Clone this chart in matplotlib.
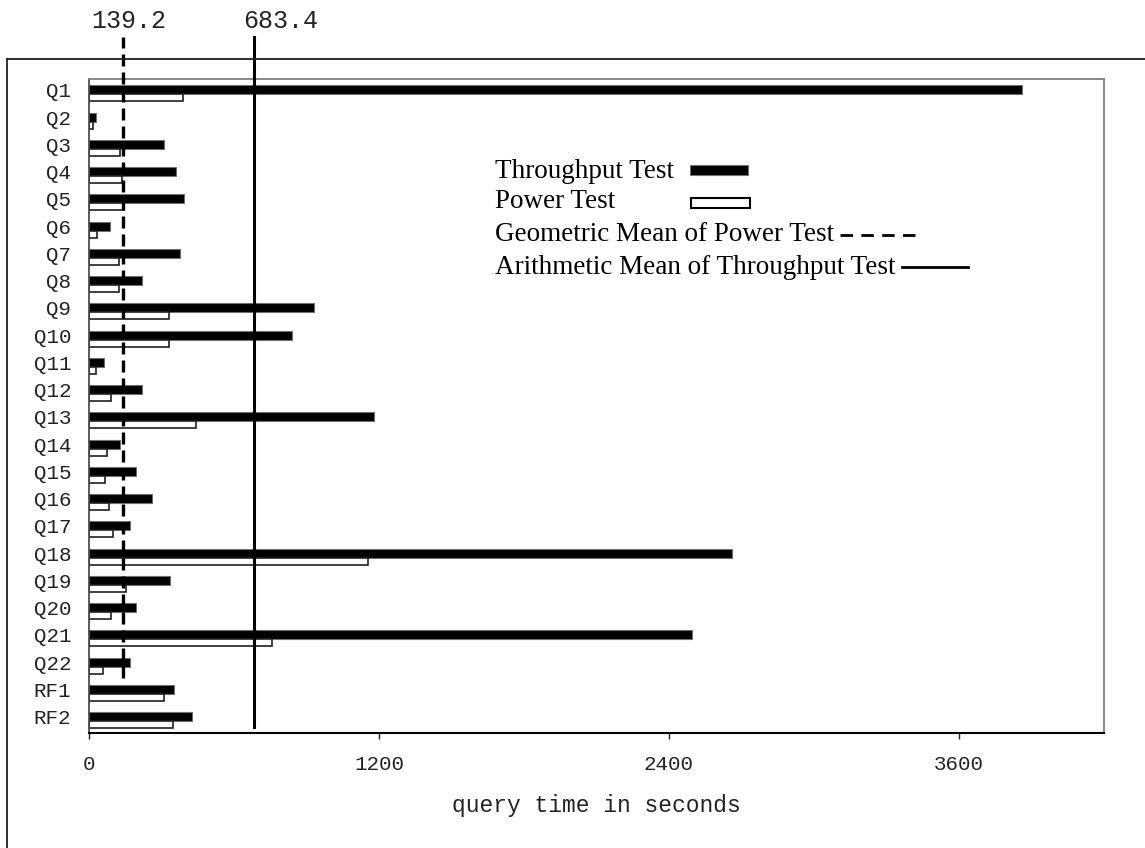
#!/usr/bin/env python3
"""TPC-H style query timing chart: throughput vs power test per query."""
import matplotlib

matplotlib.use("Agg")
import matplotlib.pyplot as plt
from matplotlib.lines import Line2D
from matplotlib.patches import Rectangle

QUERIES = ["Q1", "Q2", "Q3", "Q4", "Q5", "Q6", "Q7", "Q8", "Q9", "Q10", "Q11", "Q12",
           "Q13", "Q14", "Q15", "Q16", "Q17", "Q18", "Q19", "Q20", "Q21", "Q22",
           "RF1", "RF2"]
THROUGHPUT = [3860, 28, 309, 359, 392, 86, 375, 218, 930, 839, 61, 218,
              1178, 127, 193, 259, 168, 2659, 334, 193, 2494, 168, 350, 425]
POWER = [389, 17, 127, 134, 144, 33, 124, 123, 331, 331, 26, 90,
         442, 75, 66, 83, 99, 1152, 151, 91, 755, 58, 309, 348]
GEO_MEAN_POWER = 139.2
ARITH_MEAN_THROUGHPUT = 683.4
XTICKS = [0, 1200, 2400, 3600]

W, H = 1145, 848
MONO = "Liberation Mono"
SERIF = "Liberation Serif"


def fx(px):
    return px / W


def fy(py):
    return 1 - py / H


fig = plt.figure(figsize=(W / 100, H / 100), dpi=100, facecolor="white")
ax = fig.add_axes([fx(89.3), fy(733), fx(1103.7) - fx(89.3), fy(79) - fy(733)])

ys = list(range(len(QUERIES)))
ax.barh(ys, THROUGHPUT, height=0.33, color="black",
        edgecolor="#707070", linewidth=0.8, zorder=2)
ax.barh([y + 0.295 for y in ys], POWER, height=0.26, color="white",
        edgecolor="#202020", linewidth=1.2, zorder=2)

ax.set_xlim(0, 4200)
ax.set_ylim(23.6, -0.4)
ax.set_yticks(ys)
ax.set_yticklabels(QUERIES, fontfamily=MONO, fontsize=15)
ax.set_xticks(XTICKS)
ax.set_xticklabels([str(t) for t in XTICKS], fontfamily=MONO, fontsize=15)
ax.tick_params(axis="y", length=0, pad=13, colors="#222222")
ax.tick_params(axis="x", length=4.5, width=1, direction="out", pad=11,
               colors="#222222")

for side in ("top", "right"):
    ax.spines[side].set_color("#808080")
    ax.spines[side].set_linewidth(1.3)
ax.spines["left"].set_color("#404040")
ax.spines["left"].set_linewidth(1.2)
ax.spines["bottom"].set_color("black")
ax.spines["bottom"].set_linewidth(1.5)

ax.set_xlabel("query time in seconds", fontfamily=MONO, fontsize=16.5,
              color="#222222", va="center")
ax.xaxis.set_label_coords(0.5, -0.1116)

# mean lines, reaching above the plot frame
trans = ax.get_xaxis_transform()
ax.plot([GEO_MEAN_POWER] * 2, [0.084, 1.064], transform=trans, color="black",
        linewidth=2.4, dashes=(3.6, 1.8), clip_on=False, zorder=3)
ax.plot([ARITH_MEAN_THROUGHPUT] * 2, [0.009, 1.064], transform=trans,
        color="black", linewidth=2.2, clip_on=False, zorder=3)
ax.annotate(f"{GEO_MEAN_POWER}", xy=(GEO_MEAN_POWER, 1.088), xycoords=trans,
            xytext=(-23, 0), textcoords="offset points", ha="left",
            va="center", fontfamily=MONO, fontsize=18, color="#222222",
            annotation_clip=False)
ax.annotate(f"{ARITH_MEAN_THROUGHPUT}", xy=(ARITH_MEAN_THROUGHPUT, 1.088),
            xycoords=trans, xytext=(-8, 0), textcoords="offset points",
            ha="left", va="center", fontfamily=MONO, fontsize=18,
            color="#222222", annotation_clip=False)

# legend drawn by hand: label first, key after
legend_rows = [
    ("Throughput Test", 171),
    ("Power Test", 202),
    ("Geometric Mean of Power Test", 235),
    ("Arithmetic Mean of Throughput Test", 267),
]
for label, py in legend_rows:
    fig.text(fx(495), fy(py), label, fontfamily=SERIF, fontsize=19.5,
             ha="left", va="center", color="black")
fig.add_artist(Rectangle((fx(690), fy(175)), fx(748) - fx(690), fy(165) - fy(175),
                         transform=fig.transFigure, facecolor="black",
                         edgecolor="#707070", linewidth=0.8))
fig.add_artist(Rectangle((fx(691), fy(208)), fx(750) - fx(691), fy(198) - fy(208),
                         transform=fig.transFigure, facecolor="white",
                         edgecolor="black", linewidth=1.5))
fig.add_artist(Line2D([fx(840), fx(915)], [fy(235)] * 2, transform=fig.transFigure,
                      color="black", linewidth=2, dashes=(4.5, 3)))
fig.add_artist(Line2D([fx(902), fx(968)], [fy(267)] * 2, transform=fig.transFigure,
                      color="black", linewidth=2))

# outer frame (cut off at right and bottom)
fig.add_artist(Line2D([fx(7), 1.0], [fy(59)] * 2, transform=fig.transFigure,
                      color="#202020", linewidth=1.3))
fig.add_artist(Line2D([fx(7)] * 2, [fy(59), 0.0], transform=fig.transFigure,
                      color="#202020", linewidth=1.3))

fig.savefig("out.png", dpi=100, facecolor="white")
